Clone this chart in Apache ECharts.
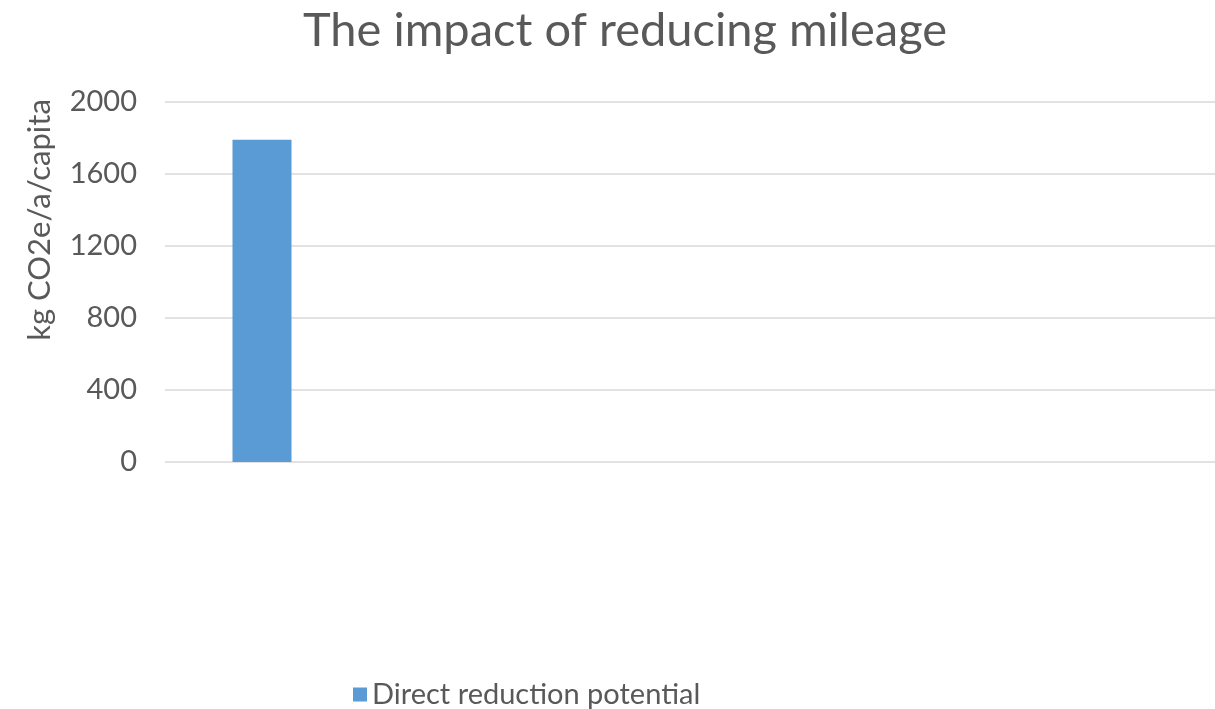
<!DOCTYPE html>
<html>
<head>
<meta charset="utf-8">
<script src="https://cdn.jsdelivr.net/npm/echarts@6/dist/echarts.min.js"></script>
<style>
  html, body { margin: 0; padding: 0; background: #ffffff; }
  #chart { width: 1215px; height: 709px; }
</style>
</head>
<body>
<div id="chart"></div>
<script>
// Chart text
const chartTitle = 'The impact of reducing mileage';
const yAxisTitle = 'kg CO2e/a/capita';
const seriesName = 'Direct reduction potential';

// Category slots along the x axis (unlabelled); only the first carries a value
const categories = ['', '', '', '', '', ''];
const directReduction = [1790, null, null, null, null, null];

// Value axis ticks
const yTicks = [0, 400, 800, 1200, 1600, 2000];

const textColor = '#595959';
const fontFamily = 'Lato, "Open Sans", sans-serif';

const chart = echarts.init(document.getElementById('chart'), null, { renderer: 'canvas' });

chart.setOption({
  backgroundColor: '#ffffff',
  animation: false,
  textStyle: { fontFamily: fontFamily, color: textColor },
  title: {
    text: chartTitle,
    left: 620,
    textAlign: 'center',
    top: 2,
    textStyle: { fontFamily: fontFamily, fontSize: 47, fontWeight: 'normal', color: textColor }
  },
  legend: {
    data: [seriesName],
    left: 348,
    top: 675,
    itemWidth: 14,
    itemHeight: 14,
    itemGap: 10,
    icon: 'rect',
    textStyle: { fontFamily: fontFamily, fontSize: 29, color: textColor }
  },
  grid: {
    left: 165,
    width: 1164,   // plot area runs on past the right edge of the canvas
    top: 102,
    height: 360,
    containLabel: false,
    outerBoundsMode: 'none'
  },
  xAxis: {
    type: 'category',
    data: categories,
    boundaryGap: true,
    axisLine: { show: false },
    axisTick: { show: false },
    axisLabel: { show: false },
    splitLine: { show: false }
  },
  yAxis: {
    type: 'value',
    min: yTicks[0],
    max: yTicks[yTicks.length - 1],
    interval: yTicks[1] - yTicks[0],
    name: yAxisTitle,
    nameLocation: 'middle',
    nameRotate: 90,
    nameGap: 110,
    nameTextStyle: { fontFamily: fontFamily, fontSize: 31, color: textColor, padding: [0, 0, 0, 124] },
    axisLine: { show: false },
    axisTick: { show: false },
    axisLabel: {
      fontFamily: fontFamily,
      fontSize: 29,
      color: textColor,
      margin: 28,
      formatter: (v) => String(v)
    },
    splitLine: { show: true, lineStyle: { color: '#d9d9d9', width: 1.5 } }
  },
  series: [{
    name: seriesName,
    type: 'bar',
    data: directReduction,
    barWidth: 59,
    itemStyle: { color: '#5b9bd5' }
  }]
});
</script>
</body>
</html>
